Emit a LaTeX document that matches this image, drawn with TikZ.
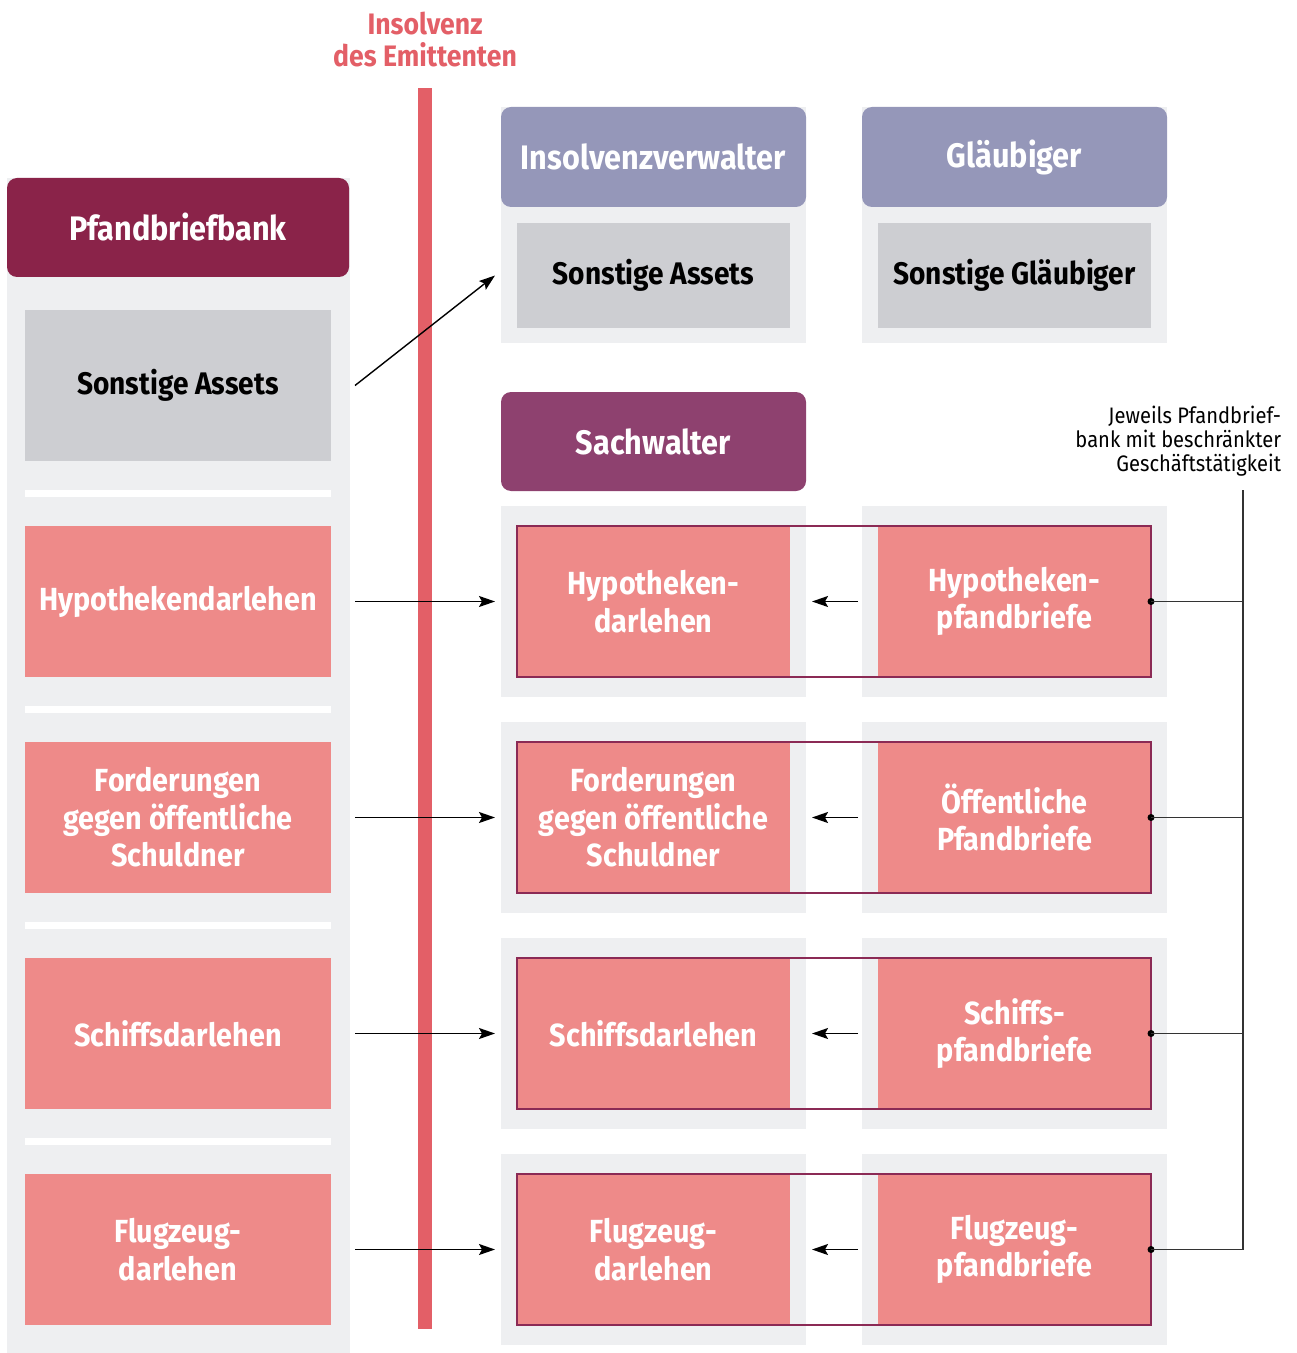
\documentclass[tikz,border=0pt]{standalone}
\usepackage{fontspec}
\setmainfont{Fira Sans}[FakeStretch=0.9]
\usetikzlibrary{arrows.meta}
\definecolor{headdark}{HTML}{8A2349}
\definecolor{lavender}{HTML}{9597B9}
\definecolor{sachcol}{HTML}{8E416F}
\definecolor{pinkbox}{HTML}{EE8A89}
\definecolor{grayinner}{HTML}{CDCED2}
\definecolor{panelgray}{HTML}{EEEFF1}
\definecolor{redbar}{HTML}{E35F67}
\definecolor{outlinecol}{HTML}{8B2A55}
\newcommand\mkbox[7]{\node[#1, minimum width={(#5-#3)*0.5pt}, minimum height={(#6-#4)*0.5pt}] (#2) at ({(#3+#5)/2},{(#4+#6)/2}) {#7};}
\tikzset{
  base/.style={rectangle, inner sep=0pt, outer sep=0pt, draw=none, align=center},
  panel/.style={base, fill=panelgray},
  sepbar/.style={base, fill=white},
  headbox/.style={base, rounded corners=5pt, text=white, font=\bfseries\fontsize{17}{18.75}\selectfont},
  graybox/.style={base, fill=grayinner, text=black, font=\bfseries\fontsize{15.6}{18.75}\selectfont},
  pinkbx/.style={base, fill=pinkbox, text=white, font=\bfseries\fontsize{16}{18.75}\selectfont},
  arr/.style={line width=0.7pt, -{Stealth[length=8pt,width=5.5pt,inset=1.5pt]}},
  pairline/.style={draw=outlinecol, line width=0.9pt},
  annline/.style={line width=0.6pt, draw=black!80},
  dot/.style={circle, fill=black, inner sep=0pt, minimum size=3.5pt}
}
\begin{document}
\begin{tikzpicture}[x=0.5pt,y=-0.5pt]
\useasboundingbox (0,0) rectangle (1296,1353);
% left column
\mkbox{panel}{lpanel}{7}{178}{350}{1353}{}
\mkbox{headbox,fill=headdark}{pfb}{7}{178}{349}{277}{Pfandbriefbank}
\mkbox{graybox}{sa1}{25}{310}{331}{461}{Sonstige Assets}
\mkbox{sepbar}{sep1}{25}{490}{331}{497}{}
\mkbox{sepbar}{sep2}{25}{706}{331}{713}{}
\mkbox{sepbar}{sep3}{25}{922}{331}{929}{}
\mkbox{sepbar}{sep4}{25}{1138}{331}{1145}{}
\mkbox{pinkbx}{l1}{25}{526}{331}{677}{Hypothekendarlehen}
\mkbox{pinkbx}{l2}{25}{742}{331}{893}{Forderungen\\gegen öffentliche\\Schuldner}
\mkbox{pinkbx}{l3}{25}{958}{331}{1109}{Schiffsdarlehen}
\mkbox{pinkbx}{l4}{25}{1174}{331}{1325}{Flugzeug-\\darlehen}
% red bar and title
\mkbox{base,fill=redbar}{bar}{418}{88}{432}{1329}{}
\node[base, text=redbar, font=\bfseries\fontsize{14.8}{16}\selectfont] (title) at (425,40) {Insolvenz\\des Emittenten};
% top middle / right
\mkbox{panel}{ivpanel}{501}{107}{806}{343}{}
\mkbox{headbox,fill=lavender}{iv}{501}{107}{806}{207}{Insolvenzverwalter}
\mkbox{graybox}{sa2}{517}{223}{790}{328}{Sonstige Assets}
\mkbox{panel}{glpanel}{862}{107}{1167}{343}{}
\mkbox{headbox,fill=lavender}{gl}{862}{107}{1167}{207}{Gläubiger}
\mkbox{graybox}{sg}{878}{223}{1151}{328}{Sonstige Gläubiger}
\mkbox{headbox,fill=sachcol}{sw}{501}{392}{806}{491}{Sachwalter}
% rows
\mkbox{panel}{pl1}{501}{506}{806}{697}{}
\mkbox{panel}{pr1}{862}{506}{1167}{697}{}
\mkbox{panel}{pl2}{501}{722}{806}{913}{}
\mkbox{panel}{pr2}{862}{722}{1167}{913}{}
\mkbox{panel}{pl3}{501}{938}{806}{1129}{}
\mkbox{panel}{pr3}{862}{938}{1167}{1129}{}
\mkbox{panel}{pl4}{501}{1154}{806}{1345}{}
\mkbox{panel}{pr4}{862}{1154}{1167}{1345}{}
\mkbox{pinkbx}{m1}{517}{526}{790}{677}{Hypotheken-\\darlehen}
\mkbox{pinkbx}{r1}{878}{526}{1151}{677}{Hypotheken-\\pfandbriefe}
\mkbox{pinkbx}{m2}{517}{742}{790}{893}{Forderungen\\gegen öffentliche\\Schuldner}
\mkbox{pinkbx}{r2}{878}{742}{1151}{893}{Öffentliche\\Pfandbriefe}
\mkbox{pinkbx}{m3}{517}{958}{790}{1109}{Schiffsdarlehen}
\mkbox{pinkbx}{r3}{878}{958}{1151}{1109}{Schiffs-\\pfandbriefe}
\mkbox{pinkbx}{m4}{517}{1174}{790}{1325}{Flugzeug-\\darlehen}
\mkbox{pinkbx}{r4}{878}{1174}{1151}{1325}{Flugzeug-\\pfandbriefe}
\foreach \i in {1,2,3,4} {
  \draw[pairline] (m\i.north west) rectangle (r\i.south east);
}
% arrows left -> middle
\draw[arr] ([xshift=12pt]sa1.east) -- ([xshift=-3pt]ivpanel.west |- sa2.center);
\foreach \i in {1,2,3,4} {
  \draw[arr] ([xshift=12pt]l\i.east) -- ([xshift=-3pt]pl\i.west);
  \draw[arr] ([xshift=-2pt]pr\i.west) -- ([xshift=3pt]pl\i.east);
}
% annotation
\node[base, anchor=north east, font=\fontsize{11.2}{12}\selectfont, align=right] (ann) at (1281,406) {Jeweils Pfandbrief-\\bank mit beschränkter\\Geschäftstätigkeit};
\coordinate (vtop) at (1243,490);
\draw[annline] (vtop) -- (vtop |- r4.east);
\foreach \i in {1,2,3,4} {
  \node[dot] (d\i) at (r\i.east) {};
  \draw[annline] (d\i.center) -- (vtop |- r\i.east);
}
\end{tikzpicture}
\end{document}
